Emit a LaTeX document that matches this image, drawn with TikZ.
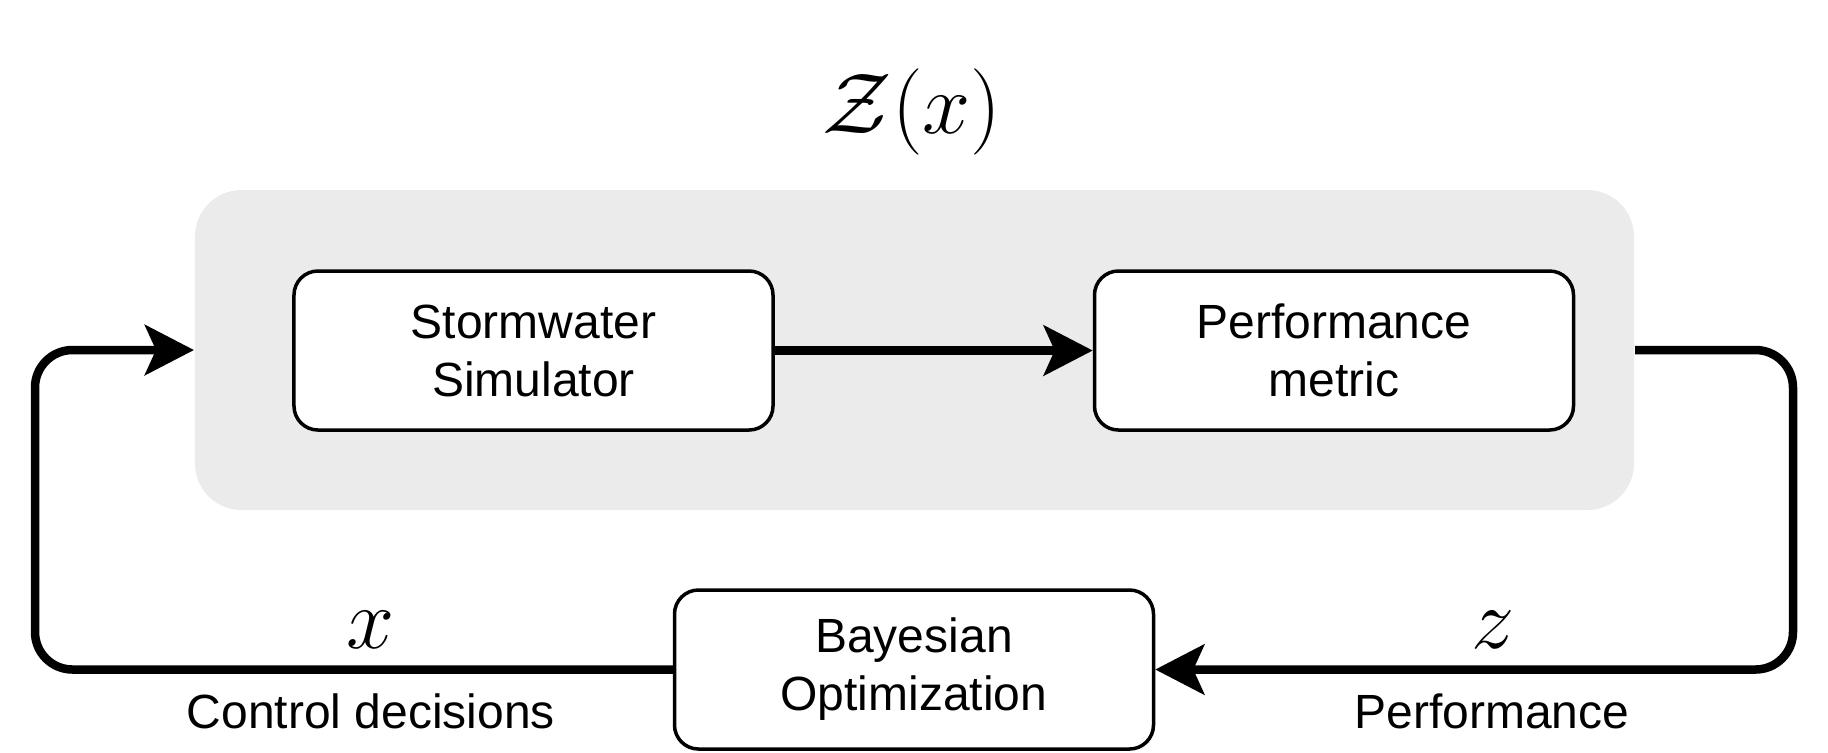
\documentclass[tikz,border=0pt]{standalone}
\usepackage{fontspec}
\setmainfont{Liberation Sans}
\usetikzlibrary{arrows.meta}
\definecolor{zgray}{HTML}{EBEBEB}

\tikzset{
  blk/.style={draw, line width=0.7pt, rounded corners=4.8pt, fill=white,
    minimum width=95.8pt, minimum height=31.8pt, align=center, inner sep=0pt,
    font=\fontsize{9.6}{11.6}\selectfont},
  flow/.style={line width=1.7pt, -{Stealth[length=9.8pt, width=10pt, inset=2.2pt]}},
  lbl/.style={anchor=base, inner sep=0pt, font=\fontsize{9.6}{11.6}\selectfont},
  var/.style={anchor=base, inner sep=0pt, font=\fontsize{16.5}{18}\selectfont}
}

\begin{document}
\begin{tikzpicture}[x=0.2pt, y=-0.2pt]
 \useasboundingbox (0,0) rectangle (1828,752);

 %objective Z(x)
 \node[inner sep=0pt, font=\fontsize{17}{20}\selectfont] (title) at (912,112) {$\mathcal{Z}(x)$};
 \node[fill=zgray, rounded corners=9.3pt, minimum width=287.8pt, minimum height=64pt, inner sep=0pt] (zbox) at (914.5,350) {};

 %blocks
 \node[blk] (sim)   at (533.5,350.5)  {Stormwater\\Simulator};
 \node[blk] (perf)  at (1334,350.5)   {Performance\\metric};
 \node[blk] (bayes) at (914,669.5)    {Bayesian\\Optimization};

 %arrow
 \draw[flow] (sim.east) -- (perf.west);

 %loop
 \def\xl{35}
 \def\xr{1793}
 \coordinate (rt) at (\xr,350);
 \coordinate (rb) at (\xr,669.5);
 \coordinate (lb) at (\xl,669.5);
 \coordinate (lt) at (\xl,350);
 \draw[flow, rounded corners=7.5pt] (zbox.east) -- (rt) -- (rb) -- (bayes.east);
 \draw[flow, rounded corners=7.5pt] (bayes.west) -- (lb) -- (lt) -- (zbox.west);

 %labels
 \node[var] (xv) at (371,648) {$x$};
 \node[var] (zv) at (1493,648) {$z$};
 \node[lbl] (xt) at (371,728) {Control decisions};
 \node[lbl] (zt) at (1492,728) {Performance};

\end{tikzpicture}
\end{document}
